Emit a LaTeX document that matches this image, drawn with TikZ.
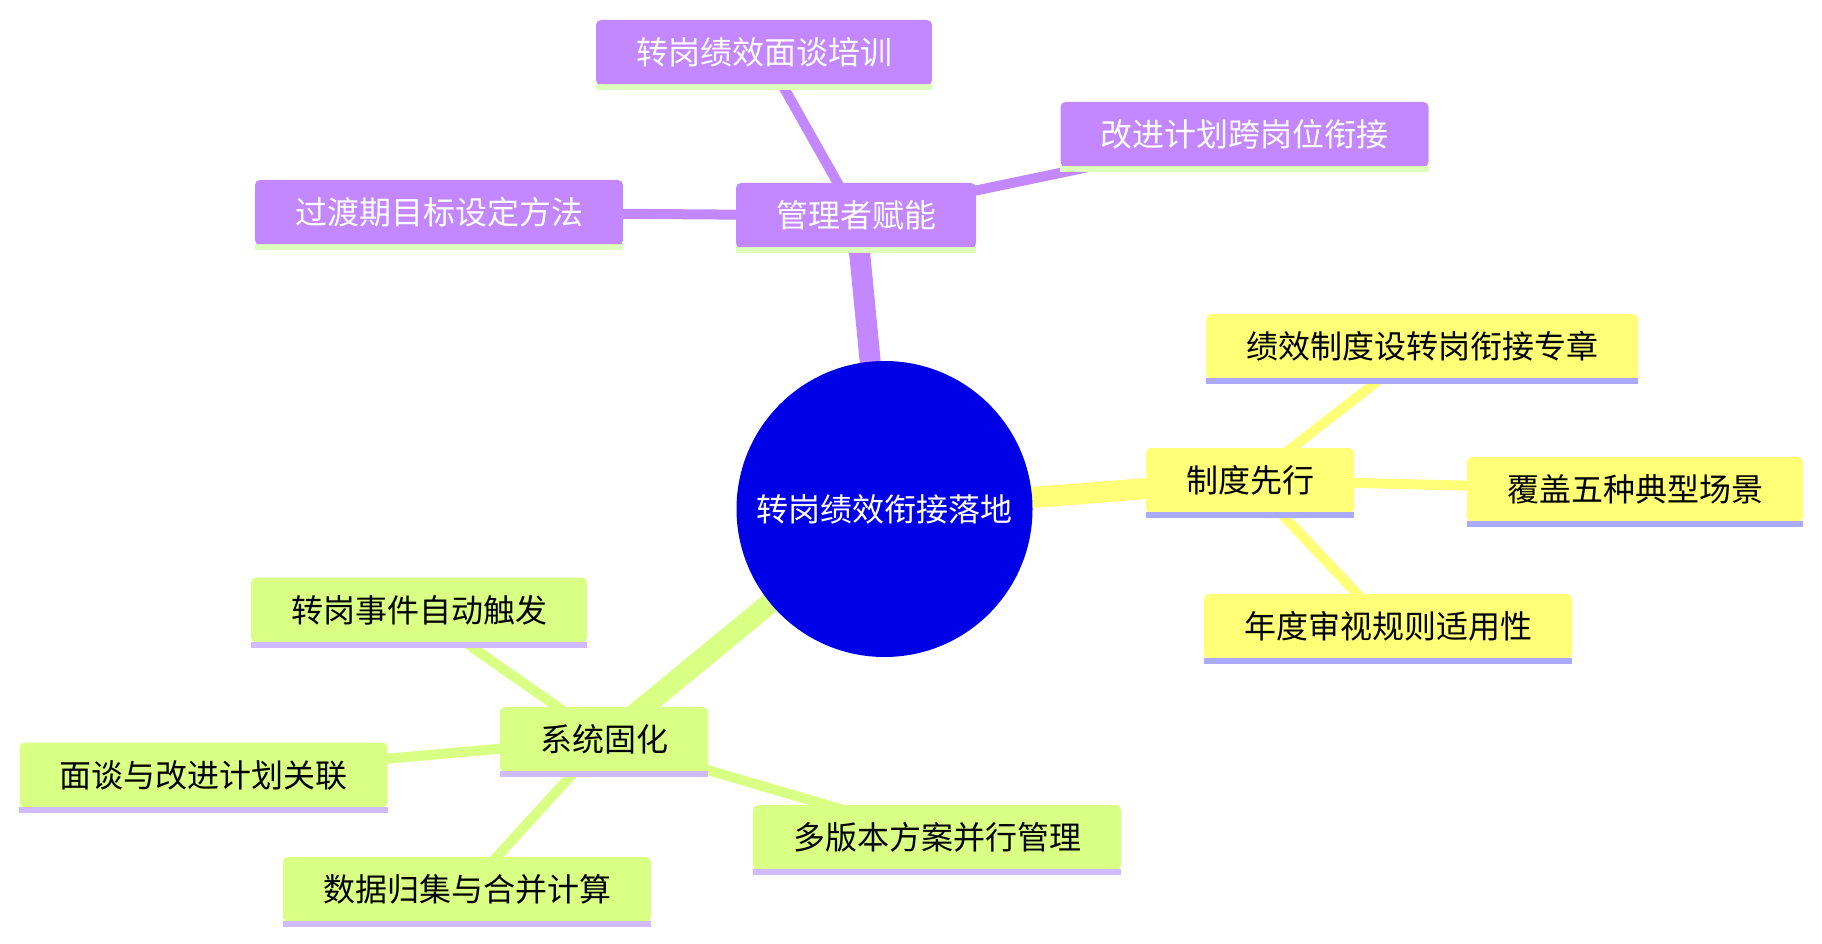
\documentclass[tikz,border=0pt]{standalone}
\usepackage{fontspec}
\setmainfont{Noto Sans CJK SC}
\usetikzlibrary{backgrounds,calc}
\definecolor{purp}{HTML}{C387FF}
\definecolor{purpline}{HTML}{DDFFBB}
\definecolor{yel}{HTML}{FFFF78}
\definecolor{yelline}{HTML}{AAAAFF}
\definecolor{grn}{HTML}{D9FF85}
\definecolor{grnline}{HTML}{D0BBFF}
\definecolor{rootblue}{HTML}{0000E6}
\begin{document}
\begin{tikzpicture}[x=1pt,y=-1pt,
  box/.style={rounded corners=5pt, minimum height=65pt, inner sep=0pt, font=\fontsize{32}{38}\selectfont},
  pbox/.style={box, fill=purp, text=white},
  ybox/.style={box, fill=yel, text=black},
  gbox/.style={box, fill=grn, text=black},
  rootnode/.style={circle, fill=rootblue, text=white, minimum size=296pt, inner sep=0pt, font=\fontsize{32}{38}\selectfont},
  rootedge/.style={line width=21pt},
  childedge/.style={line width=10pt}
]
\useasboundingbox (0,0) rectangle (1822,944);

\node[rootnode] (root) at (884.5,509) {转岗绩效衔接落地};

% purple branch
\node[pbox, minimum width=240pt] (p0) at (856,215.5) {管理者赋能};
\node[pbox, minimum width=336pt] (p1) at (764,52.5) {转岗绩效面谈培训};
\node[pbox, minimum width=368pt] (p2) at (1244.5,134.5) {改进计划跨岗位衔接};
\node[pbox, minimum width=368pt] (p3) at (439,212.5) {过渡期目标设定方法};

% yellow branch
\node[ybox, minimum width=208pt] (y0) at (1250,480.5) {制度先行};
\node[ybox, minimum width=432pt] (y1) at (1422,346.5) {绩效制度设转岗衔接专章};
\node[ybox, minimum width=336pt] (y2) at (1635,489.5) {覆盖五种典型场景};
\node[ybox, minimum width=368pt] (y3) at (1388,626.5) {年度审视规则适用性};

% green branch
\node[gbox, minimum width=208pt] (g0) at (604,739.5) {系统固化};
\node[gbox, minimum width=336pt] (g1) at (419,610) {转岗事件自动触发};
\node[gbox, minimum width=368pt] (g2) at (203.5,775) {面谈与改进计划关联};
\node[gbox, minimum width=368pt] (g3) at (467,889.5) {数据归集与合并计算};
\node[gbox, minimum width=368pt] (g4) at (937,837.5) {多版本方案并行管理};

% underlines
\foreach \n in {p0,p1,p2,p3} \fill[purpline] ($(\n.south west)+(0,-1)$) rectangle ($(\n.south east)+(0,5)$);
\foreach \n in {y0,y1,y2,y3} \fill[yelline] ($(\n.south west)+(0,-1)$) rectangle ($(\n.south east)+(0,5)$);
\foreach \n in {g0,g1,g2,g3,g4} \fill[grnline] ($(\n.south west)+(0,-1)$) rectangle ($(\n.south east)+(0,5)$);

\begin{scope}[on background layer]
  \draw[purp, rootedge] (root.center) -- (p0.center);
  \draw[yel, rootedge] (root.center) -- (y0.center);
  \draw[grn, rootedge] (root.center) -- (g0.center);
  \draw[purp, childedge] (p0.center) -- (p1.center);
  \draw[purp, childedge] (p0.center) -- (p2.center);
  \draw[purp, childedge] (p0.center) -- (p3.center);
  \draw[yel, childedge] (y0.center) -- (y1.center);
  \draw[yel, childedge] (y0.center) -- (y2.center);
  \draw[yel, childedge] (y0.center) -- (y3.center);
  \draw[grn, childedge] (g0.center) -- (g1.center);
  \draw[grn, childedge] (g0.center) -- (g2.center);
  \draw[grn, childedge] (g0.center) -- (g3.center);
  \draw[grn, childedge] (g0.center) -- (g4.center);
\end{scope}
\end{tikzpicture}
\end{document}
